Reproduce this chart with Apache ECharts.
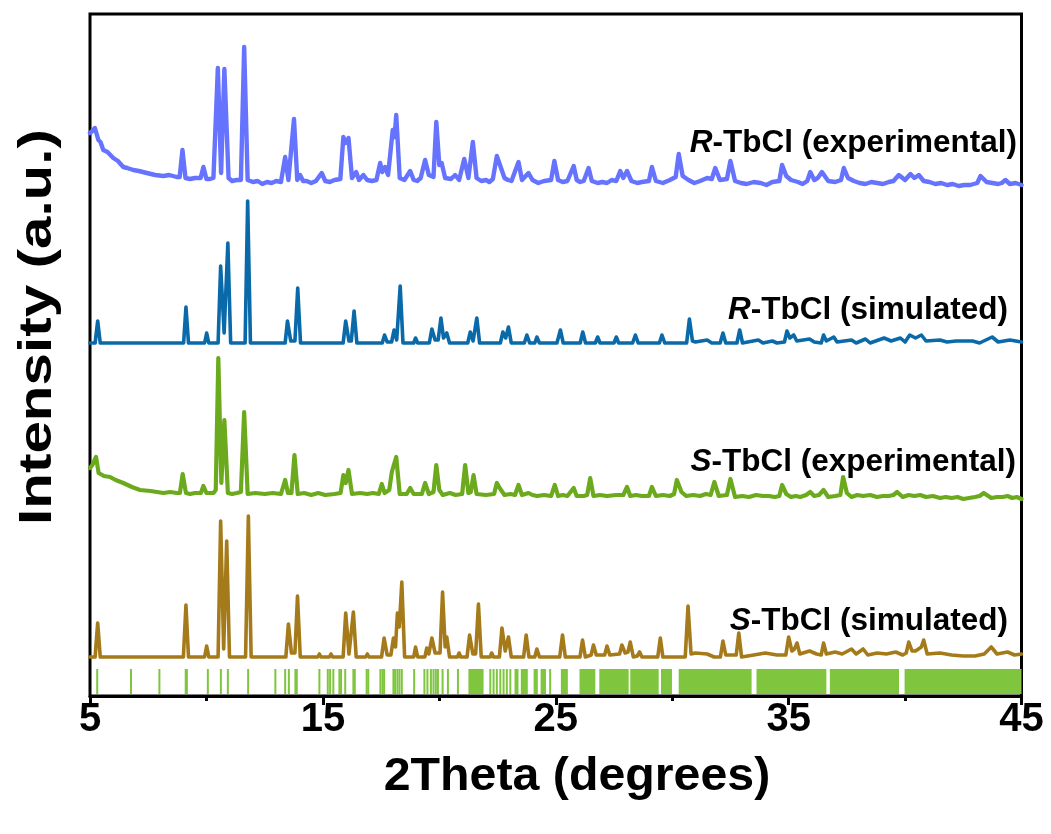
<!DOCTYPE html>
<html><head><meta charset="utf-8">
<script src="https://cdn.jsdelivr.net/npm/echarts@6/dist/echarts.min.js"></script>
<style>html,body{margin:0;padding:0;background:#fff}#c{width:1051px;height:834px}</style>
</head><body><div id="c"></div>
<script>
// ---------- DATA (2θ in degrees, intensity in a.u. above each pattern's offset) ----------
const rExp = [[5.0,54],[5.1,56],[5.21,59],[5.36,47],[5.45,45],[5.57,37],[5.75,35],[6.0,29],[6.2,26],[6.43,20],[6.6,19],[6.86,17],[7.1,16],[7.44,14],[7.8,12],[8.15,11],[8.4,12],[8.72,10],[8.85,10],[8.97,37],[9.1,9],[9.3,8],[9.5,9],[9.75,9],[9.87,20],[10.0,8],[10.15,8],[10.3,9],[10.38,10],[10.49,119],[10.63,14],[10.77,118],[10.95,9],[11.1,6],[11.3,7],[11.48,7],[11.62,140],[11.77,7],[12.0,5],[12.2,6],[12.4,3],[12.6,5],[12.8,4],[13.0,6],[13.2,5],[13.38,30],[13.52,7],[13.76,68],[13.9,7],[14.02,12],[14.15,6],[14.3,6],[14.5,4],[14.7,6],[14.95,14],[15.1,6],[15.3,5],[15.5,7],[15.75,8],[15.88,50],[15.98,44],[16.1,49],[16.25,9],[16.43,15],[16.55,7],[16.74,12],[16.9,7],[17.1,6],[17.3,7],[17.46,24],[17.55,15],[17.67,20],[17.8,12],[18.0,57],[18.08,50],[18.15,72],[18.3,9],[18.5,7],[18.75,16],[18.9,7],[19.05,6],[19.2,9],[19.39,27],[19.55,12],[19.75,10],[19.87,65],[20.0,22],[20.1,24],[20.25,9],[20.5,8],[20.68,12],[20.85,7],[21.07,28],[21.25,9],[21.44,45],[21.6,9],[21.8,6],[22.0,7],[22.15,5],[22.3,8],[22.47,31],[22.56,25],[22.64,27],[22.8,9],[22.95,7],[23.1,6],[23.4,25],[23.55,7],[23.83,14],[24.0,7],[24.25,4],[24.5,6],[24.8,7],[24.94,26],[25.1,7],[25.3,5],[25.5,6],[25.77,21],[25.9,7],[26.05,5],[26.2,6],[26.41,19],[26.55,6],[26.8,4],[27.0,5],[27.2,4],[27.4,7],[27.6,6],[27.77,16],[27.9,9],[28.06,16],[28.25,6],[28.5,4],[28.7,5],[29.0,6],[29.13,20],[29.3,6],[29.6,4],[29.9,7],[30.15,10],[30.28,33],[30.45,11],[30.7,7],[30.95,4],[31.2,6],[31.5,9],[31.7,8],[31.85,19],[32.05,7],[32.35,8],[32.5,26],[32.7,6],[32.95,4],[33.2,3],[33.5,5],[33.8,4],[34.05,2],[34.3,5],[34.6,6],[34.72,22],[34.9,11],[35.1,7],[35.4,5],[35.6,3],[35.8,6],[35.93,15],[36.1,7],[36.25,9],[36.43,15],[36.7,6],[37.0,5],[37.25,7],[37.37,19],[37.55,9],[37.8,6],[38.05,4],[38.3,3],[38.55,5],[38.8,4],[39.05,3],[39.3,5],[39.5,6],[39.73,12],[40.0,7],[40.23,13],[40.4,9],[40.59,12],[40.8,6],[41.05,5],[41.3,3],[41.55,4],[41.8,2],[42.05,3],[42.3,1],[42.55,2],[42.8,2],[43.1,4],[43.24,11],[43.5,5],[43.75,4],[44.0,3],[44.15,4],[44.31,7],[44.5,3],[44.75,4],[45.0,2]];

const rSim = [[5.0,0],[5.22,0],[5.33,22],[5.44,0],[7.9,0],[7.98,1],[8.06,0],[9.02,0],[9.12,36],[9.23,0],[9.92,0],[10.01,10],[10.1,0],[10.5,0],[10.61,77],[10.76,10],[10.92,100],[11.04,0],[11.66,0],[11.77,142],[11.89,0],[13.38,0],[13.48,22],[13.62,2],[13.8,2],[13.92,55],[14.04,0],[14.8,0],[14.88,2],[14.96,0],[15.3,0],[15.38,1],[15.46,0],[15.87,0],[15.98,22],[16.12,2],[16.22,2],[16.34,32],[16.46,0],[16.84,0],[16.91,2],[16.98,0],[17.55,0],[17.65,8],[17.76,1],[17.95,1],[18.06,13],[18.17,3],[18.32,57],[18.44,0],[18.9,0],[18.98,5],[19.07,0],[19.57,0],[19.68,14],[19.82,3],[19.95,3],[20.07,25],[20.18,5],[20.32,10],[20.44,0],[20.78,0],[20.85,2],[20.92,0],[21.22,0],[21.33,11],[21.45,2],[21.5,2],[21.61,25],[21.73,0],[22.22,0],[22.3,2],[22.38,0],[22.62,0],[22.73,11],[22.85,5],[22.97,16],[23.09,0],[23.65,0],[23.76,8],[23.88,0],[24.1,0],[24.19,6],[24.3,0],[25.05,0],[25.2,13],[25.32,0],[26.05,0],[26.16,11],[26.28,0],[26.7,0],[26.8,6],[26.9,0],[27.5,0],[27.6,6],[27.7,0],[28.3,0],[28.42,8],[28.54,0],[29.45,0],[29.56,8],[29.68,0],[30.62,0],[30.74,24],[30.87,2],[31.0,1],[31.5,3],[31.7,0],[32.06,0],[32.18,10],[32.3,0],[32.78,0],[32.9,13],[33.02,0],[33.7,3],[33.9,0],[34.3,2],[34.5,0],[34.82,1],[34.93,12],[35.05,5],[35.22,8],[35.35,2],[35.9,4],[36.1,1],[36.4,0],[36.5,8],[36.62,2],[36.94,6],[37.08,1],[37.7,3],[37.9,0],[38.3,4],[38.5,0],[39.1,5],[39.4,2],[39.8,5],[40.0,1],[40.2,8],[40.45,5],[40.7,8],[40.9,2],[41.5,3],[41.8,1],[42.2,2],[42.9,2],[43.2,0],[43.74,6],[44.0,1],[44.5,3],[45.0,1]];

const sExp = [[5.0,30],[5.1,33],[5.26,41],[5.37,25],[5.6,22],[5.86,21],[6.1,18],[6.43,15],[6.8,11],[7.15,8],[7.6,7],[8.15,5],[8.45,6],[8.72,5],[8.86,5],[8.98,24],[9.12,5],[9.3,4],[9.5,5],[9.76,5],[9.87,12],[10.0,5],[10.3,5],[10.4,8],[10.51,140],[10.64,15],[10.77,78],[10.92,5],[11.1,4],[11.3,5],[11.48,6],[11.62,86],[11.77,4],[12.1,5],[12.5,4],[12.85,5],[13.2,4],[13.38,18],[13.5,5],[13.65,5],[13.78,43],[13.92,4],[14.2,5],[14.5,3],[14.8,5],[15.1,3],[15.5,4],[15.76,5],[15.88,23],[15.98,15],[16.1,28],[16.25,4],[16.6,5],[16.9,4],[17.15,5],[17.4,4],[17.53,14],[17.65,5],[17.85,8],[17.96,26],[18.15,41],[18.3,4],[18.6,4],[18.75,10],[18.9,4],[19.25,4],[19.39,15],[19.55,4],[19.75,6],[19.87,33],[20.0,8],[20.15,3],[20.45,5],[20.7,3],[20.98,4],[21.11,33],[21.25,5],[21.35,6],[21.47,23],[21.6,4],[22.0,3],[22.35,4],[22.47,15],[22.62,9],[22.8,3],[23.05,4],[23.25,3],[23.4,13],[23.55,3],[23.83,5],[24.0,3],[24.2,2],[24.5,3],[24.8,2],[24.96,13],[25.1,2],[25.3,3],[25.5,2],[25.77,10],[25.9,2],[26.2,2],[26.35,3],[26.48,20],[26.62,2],[26.9,3],[27.2,2],[27.6,3],[27.9,3],[28.06,11],[28.2,2],[28.45,3],[28.7,2],[29.0,2],[29.13,11],[29.3,2],[29.6,3],[29.9,2],[30.08,4],[30.2,18],[30.4,6],[30.6,2],[30.9,3],[31.2,2],[31.45,4],[31.65,3],[31.81,16],[32.0,2],[32.35,3],[32.5,19],[32.7,1],[33.0,2],[33.3,1],[33.6,3],[33.9,2],[34.15,2],[34.4,1],[34.6,2],[34.72,13],[34.9,4],[35.1,1],[35.3,2],[35.5,1],[35.75,3],[35.93,6],[36.1,2],[36.3,3],[36.5,8],[36.7,1],[37.0,2],[37.22,3],[37.34,21],[37.5,5],[37.7,1],[37.95,3],[38.2,2],[38.5,3],[38.8,1],[39.05,2],[39.3,2],[39.5,3],[39.66,6],[39.9,1],[40.15,3],[40.4,2],[40.65,3],[40.9,1],[41.2,2],[41.5,0],[41.75,1],[42.0,0],[42.25,1],[42.5,-1],[42.75,0],[43.0,1],[43.2,2],[43.38,5],[43.7,0],[43.95,1],[44.2,1],[44.4,2],[44.6,0],[44.8,1],[45.0,-1]];

const sSim = [[5.0,0],[5.22,0],[5.33,34],[5.44,0],[7.9,0],[7.98,1],[8.06,0],[9.01,0],[9.12,52],[9.23,0],[9.92,0],[10.01,11],[10.1,0],[10.5,0],[10.61,136],[10.74,8],[10.87,116],[10.99,0],[11.68,0],[11.8,141],[11.92,0],[13.41,0],[13.52,33],[13.65,4],[13.8,4],[13.91,61],[14.03,0],[14.78,0],[14.85,3],[14.92,0],[15.28,0],[15.35,3],[15.42,0],[15.87,0],[15.98,44],[16.12,3],[16.2,3],[16.31,45],[16.43,0],[16.84,0],[16.91,3],[16.98,0],[17.52,0],[17.63,19],[17.76,2],[17.92,2],[18.03,19],[18.12,10],[18.2,44],[18.28,30],[18.39,75],[18.51,0],[18.9,0],[18.98,10],[19.07,0],[19.38,0],[19.46,9],[19.55,3],[19.68,19],[19.82,4],[20.03,4],[20.14,65],[20.25,10],[20.32,20],[20.44,0],[20.78,0],[20.85,4],[20.92,0],[21.19,0],[21.3,22],[21.44,3],[21.56,3],[21.68,53],[21.8,0],[22.18,0],[22.25,4],[22.32,0],[22.58,0],[22.69,29],[22.83,6],[22.97,20],[23.09,0],[23.62,0],[23.73,22],[23.85,0],[24.1,0],[24.19,8],[24.3,0],[25.17,0],[25.29,22],[25.41,0],[26.04,0],[26.15,17],[26.27,0],[26.52,2],[26.62,12],[26.74,2],[27.1,2],[27.2,11],[27.32,2],[27.74,3],[27.84,12],[27.98,4],[28.1,5],[28.2,15],[28.33,0],[28.5,1],[28.6,5],[28.7,0],[29.38,0],[29.49,19],[29.6,0],[30.56,0],[30.68,51],[30.81,3],[31.0,4],[31.5,3],[31.8,0],[32.07,0],[32.18,16],[32.3,2],[32.75,2],[32.86,24],[32.98,0],[33.5,2],[34.0,4],[34.5,2],[34.88,2],[35.0,20],[35.14,6],[35.25,8],[35.36,14],[35.48,3],[35.9,6],[36.2,3],[36.4,2],[36.5,14],[36.62,3],[37.0,5],[37.3,3],[37.7,8],[37.9,3],[38.2,8],[38.4,2],[38.8,4],[39.2,3],[39.6,5],[39.9,2],[40.05,4],[40.16,15],[40.3,6],[40.45,6],[40.7,10],[40.8,17],[40.95,3],[41.5,4],[42.0,2],[42.5,1],[43.0,1],[43.4,3],[43.7,10],[43.95,3],[44.4,5],[44.7,2],[45.0,3]];

// vertical offsets of the stacked patterns (a.u.)
const offsets = { rExp: 509, rSim: 353, sExp: 198, sSim: 39 };

// simulated reflection positions (2θ): single lines and dense clusters [from, to]
const reflLines = [5.31,6.76,7.98,9.11,9.16,10.06,10.62,10.92,11.79,12.96,13.38,13.54,13.82,13.88,14.85,15.21,15.31,15.45,15.71,15.78,15.96,16.31,16.37,16.88,16.95,17.47,17.56,17.63,18.03,18.10,18.20,18.29,18.39,18.92,19.36,19.49,19.64,19.75,19.85,19.94,20.14,20.37,20.80,22.19,22.33,22.47,22.62,22.76,22.90,23.05,24.76];
const reflClusters = [[21.25,21.9],[23.23,23.40],[23.5,23.8],[24.05,24.23],[24.35,24.58],[25.22,25.52],[26.02,26.70],[26.87,28.13],[28.2,29.42],[29.52,29.99],[30.28,33.41],[33.62,36.62],[36.77,39.74],[39.98,45.0]];

const xMajorTicks = [5, 15, 25, 35, 45];
const xMinorTicks = [10, 20, 30, 40];

const labels = [
  { key: 'rExp', sym: 'R', rest: '-TbCl (experimental)' },
  { key: 'rSim', sym: 'R', rest: '-TbCl (simulated)' },
  { key: 'sExp', sym: 'S', rest: '-TbCl (experimental)' },
  { key: 'sSim', sym: 'S', rest: '-TbCl (simulated)' }
];

// ---------- STYLE ----------
const FONT = "'Liberation Sans', Arial, Helvetica, sans-serif";
const COLORS = { rExp: '#6673ff', rSim: '#0a69a8', sExp: '#6aaa1c', sSim: '#a57a1a', refl: '#7fc63e' };
const WIDTHS = { rExp: 4.4, rSim: 3.6, sExp: 4.2, sSim: 3.6 };
const TICK_TOP = 27, TICK_BOTTOM = 2;
const LABEL_POS = { rExp: [1017, 143], rSim: [1008, 310], sExp: [1016, 462], sSim: [1008, 621] };

const shift = (arr, off) => arr.map(p => [p[0], p[1] + off]);
const reflData = reflLines.map(x => [x, x]).concat(reflClusters);

const chart = echarts.init(document.getElementById('c'), null, { renderer: 'canvas' });

const lineSeries = [['rExp', rExp], ['rSim', rSim], ['sExp', sExp], ['sSim', sSim]].map(([k, d]) => ({
  type: 'line', name: k, data: shift(d, offsets[k]), showSymbol: false, symbol: 'none',
  lineStyle: { color: COLORS[k], width: WIDTHS[k], join: 'round', cap: 'round' },
  itemStyle: { color: COLORS[k] }, clip: true, z: 3
}));

chart.setOption({
  animation: false,
  backgroundColor: '#fff',
  grid: { left: 90, right: 29.5, top: 14, bottom: 138, show: true, borderColor: '#000', borderWidth: 3, backgroundColor: 'transparent' },
  xAxis: [{
    type: 'value', min: 5, max: 45, position: 'bottom',
    axisLine: { show: true, onZero: false, lineStyle: { color: '#000', width: 3 } },
    axisTick: { show: true, inside: false, length: 9, customValues: xMajorTicks, lineStyle: { color: '#000', width: 3 } },
    axisLabel: { show: true, customValues: xMajorTicks, margin: 4, color: '#000', fontSize: 40, fontWeight: 'bold', fontFamily: FONT },
    splitLine: { show: false }
  }, {
    type: 'value', min: 5, max: 45, position: 'bottom', gridIndex: 0,
    axisLine: { show: false },
    axisTick: { show: true, inside: false, length: 5, customValues: xMinorTicks, lineStyle: { color: '#000', width: 3 } },
    axisLabel: { show: false },
    splitLine: { show: false }
  }],
  yAxis: { type: 'value', min: 0, max: 682, show: false, splitLine: { show: false } },
  series: lineSeries.concat([{
    type: 'custom', name: 'reflections', xAxisIndex: 0, yAxisIndex: 0, clip: true, z: 2,
    data: reflData,
    renderItem: function (params, api) {
      const a = api.value(0), b = api.value(1);
      const p0 = api.coord([a, TICK_TOP]);
      const p1 = api.coord([b, TICK_BOTTOM]);
      let x = p0[0], w = p1[0] - p0[0];
      if (w < 2) { x = (p0[0] + p1[0]) / 2 - 1; w = 2; }
      return { type: 'rect', shape: { x: x, y: p0[1], width: w, height: p1[1] - p0[1] }, style: { fill: COLORS.refl } };
    }
  }]),
  graphic: labels.map(l => ({
    type: 'text', x: LABEL_POS[l.key][0], y: LABEL_POS[l.key][1], z: 10,
    style: {
      text: '{it|' + l.sym + '}' + l.rest,
      fill: '#000', fontSize: 31.5, fontWeight: 'bold', fontFamily: FONT,
      align: 'right', verticalAlign: 'middle',
      rich: { it: { fontStyle: 'italic', fontWeight: 'bold', fontSize: 31.5, fontFamily: FONT, fill: '#000' } }
    }
  })).concat([
    { type: 'text', x: 577, y: 777, z: 10, scaleX: 1.05,
      style: { text: '2Theta (degrees)', fill: '#000', fontSize: 46, fontWeight: 'bold', fontFamily: FONT, align: 'center', verticalAlign: 'middle' } },
    { type: 'text', x: 38, y: 327, rotation: Math.PI / 2, scaleX: 1.27, z: 10,
      style: { text: 'Intensity (a.u.)', fill: '#000', fontSize: 46, fontWeight: 'bold', fontFamily: FONT, align: 'center', verticalAlign: 'middle' } }
  ])
});
</script>
</body></html>
